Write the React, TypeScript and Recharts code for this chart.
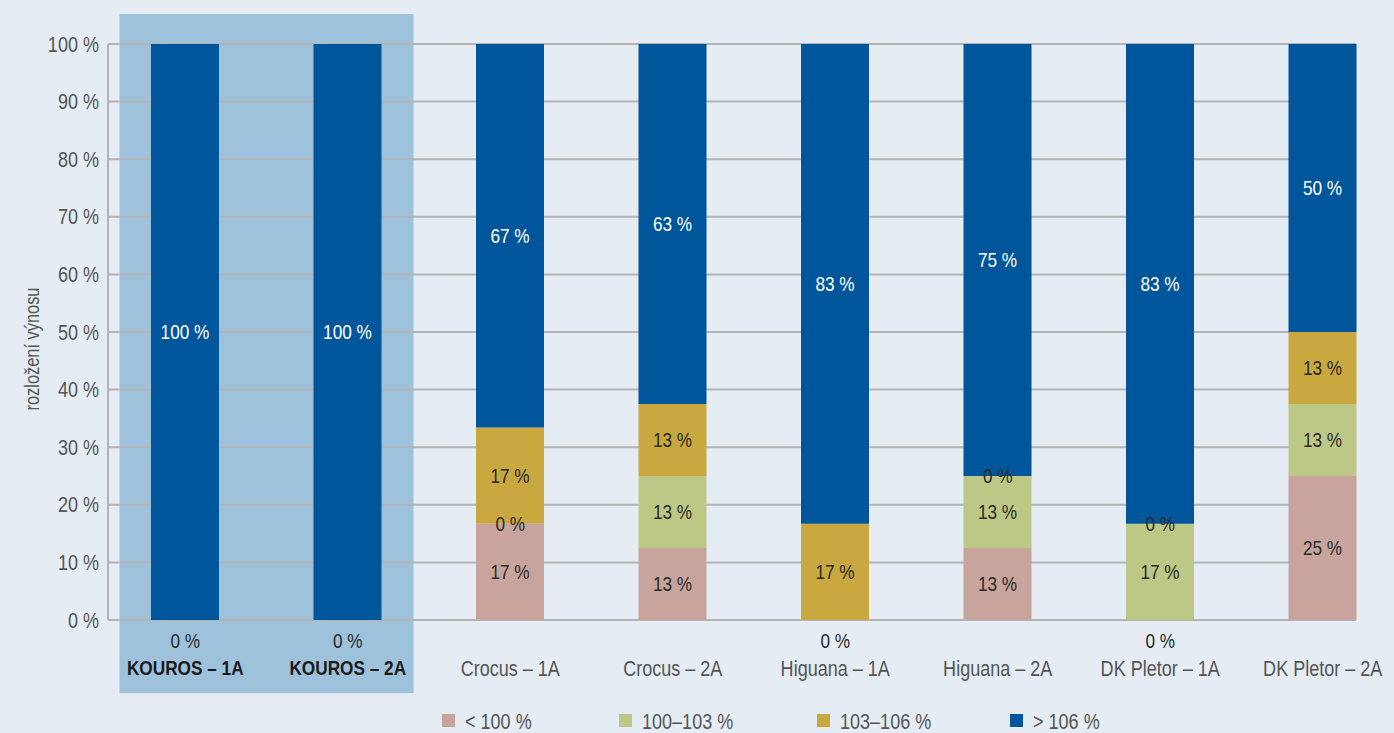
import React from 'react';
import { BarChart, Bar, XAxis, YAxis, CartesianGrid, ReferenceArea, ReferenceDot, LabelList, Legend } from 'recharts';

const categories = ['KOUROS – 1A', 'KOUROS – 2A', 'Crocus – 1A', 'Crocus – 2A', 'Higuana – 1A', 'Higuana – 2A', 'DK Pletor – 1A', 'DK Pletor – 2A'];
const under100 = [0, 0, 16.7, 12.5, 0, 12.5, 0, 25];
const from100to103 = [0, 0, 0, 12.5, 0, 12.5, 16.7, 12.5];
const from103to106 = [0, 0, 16.7, 12.5, 16.7, 0, 0, 12.5];
const over106 = [100, 100, 66.6, 62.5, 83.3, 75, 83.3, 50];
const yTicks = [0, 10, 20, 30, 40, 50, 60, 70, 80, 90, 100];
const highlighted = ['KOUROS – 1A', 'KOUROS – 2A'];

const FONT = "'Liberation Sans', Arial, sans-serif";
const NARROW = 0.82; // condensed look, no narrow font installed

const series = [
  { key: 'lt100', name: '< 100 %', values: under100, color: '#c8a49c', text: '#2a2a2a' },
  { key: 'r100', name: '100–103 %', values: from100to103, color: '#bdc887', text: '#2a2a2a' },
  { key: 'r103', name: '103–106 %', values: from103to106, color: '#c8a83f', text: '#2a2a2a' },
  { key: 'gt106', name: '> 106 %', values: over106, color: '#00569a', text: '#ffffff' },
];

const data = categories.map((name, i) => {
  const row: Record<string, string | number> = { name };
  series.forEach(s => { row[s.key] = s.values[i]; });
  return row;
});

// zero segments: "0 %" on the boundary, or under the axis when the bottom series is empty
const zeroLabels: { cat: string; at: number; under: boolean }[] = [];
categories.forEach((cat, i) => {
  let below = 0;
  series.forEach((s, idx) => {
    if (s.values[i] === 0) {
      if (idx === 0) zeroLabels.push({ cat, at: 0, under: true });
      else if (below > 0) zeroLabels.push({ cat, at: below, under: false });
    }
    below += s.values[i];
  });
});

const CText = ({ x, y, size = 22, anchor = 'middle', fill = '#555', weight = 'normal', rotate = 0, children }: any) => (
  <text
    transform={`translate(${x} ${y}) rotate(${rotate}) scale(${NARROW} 1)`}
    x={0} y={0} textAnchor={anchor} dominantBaseline="central"
    fontSize={size} fontFamily={FONT} fontWeight={weight} fill={fill}>
    {children}
  </text>
);

const makeLabel = (idx: number) => (props: any) => {
  const { x, y, width, height, value } = props;
  if (!value) return null;
  return <CText x={x + width / 2} y={y + height / 2} size={21} fill={series[idx].text}>{Math.round(value)} %</CText>;
};

const ZeroLabel = ({ viewBox, under }: any) => (
  <CText x={viewBox.x + viewBox.width / 2} y={viewBox.y + (under ? 21 : 0)} size={21} fill="#2a2a2a">0 %</CText>
);

const XTick = (props: any) => {
  const { x, y, payload } = props;
  const bold = highlighted.includes(payload.value);
  return (
    <CText x={x} y={y + 40} size={bold ? 21 : 22} weight={bold ? 'bold' : 'normal'} fill={bold ? '#1a1a1a' : '#555'}>
      {payload.value}
    </CText>
  );
};

const YTick = (props: any) => {
  const { x, y, payload } = props;
  return <CText x={x} y={y} anchor="end">{payload.value} %</CText>;
};

const YTitle = (props: any) => {
  const { viewBox } = props;
  return (
    <CText x={viewBox.x + 32} y={viewBox.y + viewBox.height / 2 + 17} size={20} rotate={-90}>
      rozložení výnosu
    </CText>
  );
};

const LEGEND_X = [0, 177, 375, 568];

const LegendContent = () => (
  <svg width={720} height={24} style={{ display: 'block' }}>
    {series.map((s, i) => (
      <g key={s.key}>
        <rect x={LEGEND_X[i]} y={5} width={13} height={13} fill={s.color} />
        <CText x={LEGEND_X[i] + 23} y={12} anchor="start">{s.name}</CText>
      </g>
    ))}
  </svg>
);

const App: React.FC = () => {
  return (
    <div style={{ position: 'absolute', left: 0, top: 0, width: 1394, height: 733, background: '#e5ecf4', overflow: 'hidden' }}>
      <BarChart width={1394} height={733} data={data} margin={{ top: 44, right: 38, bottom: 0, left: 0 }} barSize={68}>
        <ReferenceArea
          x1={highlighted[0]}
          x2={highlighted[1]}
          y1={-12.7}
          y2={105.2}
          ifOverflow="visible"
          fill="#9fc2dc"
          fillOpacity={1}
          stroke="none"
          zIndex={-200}
          shape={(p: any) => <rect x={p.x + 15.5} y={p.y} width={p.width - 31} height={p.height} fill="#9fc2dc" />}
        />
        <CartesianGrid vertical={false} stroke="#b4b4b4" strokeWidth={2} />
        <XAxis dataKey="name" height={113} axisLine={false} tickLine={false} interval={0}
          padding={{ left: -4, right: -48 }} tick={<XTick />} />
        <YAxis width={108} domain={[0, 100]} ticks={yTicks} tick={<YTick />} tickLine={false} tickMargin={3}
          axisLine={{ stroke: '#b4b4b4', strokeWidth: 2 }} label={<YTitle />} />
        <Legend layout="horizontal" verticalAlign="middle" align="center" content={<LegendContent />}
          wrapperStyle={{ left: 442, top: 709, width: 'auto', height: 24 }} />
        {series.map((s, idx) => (
          <Bar key={s.key} dataKey={s.key} name={s.name} stackId="a" fill={s.color} isAnimationActive={false}>
            <LabelList dataKey={s.key} content={makeLabel(idx)} />
          </Bar>
        ))}
        {zeroLabels.map((z, i) => (
          <ReferenceDot key={i} x={z.cat} y={z.at} r={0} fill="none" stroke="none" ifOverflow="visible"
            label={<ZeroLabel under={z.under} />} />
        ))}
      </BarChart>
    </div>
  );
};

export default App;
